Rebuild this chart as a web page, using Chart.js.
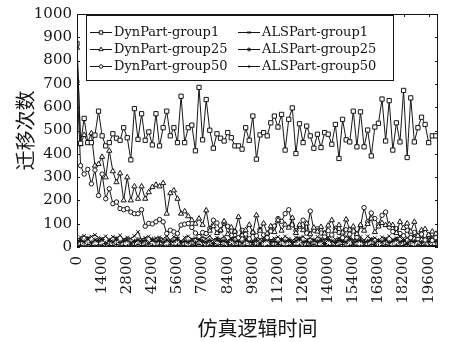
<!DOCTYPE html>
<html lang="zh">
<head>
    <meta charset="UTF-8">
    <title>迁移次数</title>
    <script src="https://cdn.jsdelivr.net/npm/chart.js"></script>
    <style>
        body { margin: 0; background: #fff; }
    </style>
</head>
<body>
    <canvas id="chart" width="456" height="342"></canvas>

    <script>
        const STEP = 200;
        const xTicks = [0, 1400, 2800, 4200, 5600, 7000, 8400, 9800, 11200, 12600, 14000, 15400, 16800, 18200, 19600];
        const yTicks = [0, 100, 200, 300, 400, 500, 600, 700, 800, 900, 1000];

        const dynGroup1 = [
            872, 445, 552, 448, 448, 480, 583, 477, 434, 448,
            486, 467, 458, 512, 469, 374, 594, 462, 572, 458,
            494, 438, 572, 434, 512, 583, 477, 512, 448, 647,
            448, 512, 523, 413, 685, 460, 633, 501, 424, 486,
            467, 455, 491, 469, 434, 434, 420, 512, 458, 562,
            377, 481, 491, 477, 533, 562, 515, 569, 416, 548,
            597, 401, 529, 448, 519, 477, 424, 484, 427, 491,
            484, 441, 526, 380, 548, 460, 451, 583, 430, 580,
            430, 502, 391, 515, 531, 635, 455, 628, 416, 533,
            451, 672, 384, 640, 451, 512, 557, 526, 448, 477,
            477
        ];
        const dynGroup25 = [
            855, 441, 481, 448, 488, 349, 356, 387, 299, 413,
            325, 278, 316, 200, 299, 200, 260, 207, 260, 207,
            235, 257, 267, 260, 274, 143, 231, 243, 207, 143,
            153, 132, 115, 100, 122, 95, 157, 70, 89, 60,
            72, 110, 55, 84, 66, 129, 50, 72, 95, 62,
            136, 70, 101, 58, 89, 64, 115, 70, 96, 83,
            125, 60, 95, 72, 101, 55, 83, 66, 86, 58,
            92, 115, 70, 94, 62, 118, 74, 88, 56, 94,
            70, 99, 122, 64, 88, 103, 94, 97, 94, 60,
            108, 82, 101, 66, 108, 48, 72, 77, 52, 66,
            57
        ];
        const dynGroup50 = [
            710, 349, 313, 333, 271, 330, 221, 313, 207, 250,
            186, 193, 165, 160, 165, 150, 143, 143, 160, 89,
            101, 99, 108, 118, 108, 58, 72, 65, 58, 94,
            98, 101, 84, 60, 45, 62, 58, 80, 115, 103,
            70, 101, 89, 50, 66, 40, 72, 55, 35, 62,
            48, 75, 52, 40, 68, 90, 122, 110, 143, 160,
            95, 70, 88, 115, 60, 154, 72, 78, 60, 45,
            70, 52, 80, 62, 40, 74, 55, 68, 42, 90,
            169, 108, 146, 122, 96, 136, 150, 85, 66, 78,
            58, 48, 72, 40, 62, 35, 55, 30, 48, 28,
            40
        ];
        const alsGroup1 = [
            30, 42, 48, 38, 45, 52, 40, 35, 46, 30,
            44, 38, 50, 33, 41, 36, 47, 65, 32, 40,
            45, 28, 38, 42, 35, 48, 30, 44, 37, 25,
            41, 46, 33, 38, 29, 43, 36, 48, 31, 40,
            34, 45, 27, 39, 42, 30, 47, 35, 38, 26,
            44, 33, 40, 48, 29, 37, 43, 31, 46, 35,
            28, 41, 38, 45, 32, 39, 27, 44, 36, 30,
            42, 48, 33, 38, 26, 45, 40, 31, 37, 43,
            29, 46, 34, 39, 28, 42, 36, 47, 31, 38,
            44, 27, 40, 35, 46, 30, 41, 37, 33, 45,
            38
        ];
        const alsGroup25 = [
            20, 28, 22, 35, 18, 30, 25, 32, 15, 27,
            22, 34, 19, 26, 30, 17, 24, 31, 21, 28,
            16, 33, 23, 27, 19, 30, 22, 25, 34, 18,
            26, 21, 29, 17, 32, 24, 20, 28, 15, 31,
            23, 27, 19, 33, 22, 26, 18, 30, 24, 20,
            29, 16, 27, 32, 21, 25, 18, 31, 23, 28,
            19, 26, 34, 20, 24, 17, 30, 22, 27, 15,
            32, 25, 19, 28, 23, 21, 33, 18, 26, 29,
            20, 24, 31, 17, 27, 22, 30, 19, 25, 33,
            21, 28, 16, 26, 23, 31, 18, 27, 22, 29,
            24
        ];
        const alsGroup50 = [
            5, 8, 3, 10, 6, 4, 9, 7, 2, 8,
            5, 11, 4, 7, 3, 9, 6, 10, 5, 8,
            2, 7, 4, 9, 6, 3, 10, 5, 8, 4,
            7, 2, 9, 6, 11, 5, 3, 8, 4, 7,
            10, 6, 2, 9, 5, 8, 3, 7, 4, 10,
            6, 9, 2, 5, 8, 4, 11, 7, 3, 6,
            9, 5, 8, 2, 7, 4, 10, 6, 3, 9,
            5, 8, 4, 7, 11, 2, 6, 9, 5, 3,
            8, 4, 10, 7, 2, 6, 9, 5, 3, 8,
            4, 7, 11, 6, 2, 9, 5, 8, 3, 7,
            6
        ];

        const INK = '#151515';
        const serif = "'DejaVu Serif', serif";
        const cjk = "'Noto Sans CJK SC', sans-serif";

        const series = [
            { label: 'DynPart-group1', data: dynGroup1, style: 'rect', r: 3 },
            { label: 'DynPart-group25', data: dynGroup25, style: 'triangle', r: 3 },
            { label: 'DynPart-group50', data: dynGroup50, style: 'circle', r: 2.2 },
            { label: 'ALSPart-group1', data: alsGroup1, style: 'crossRot', r: 2.5 },
            { label: 'ALSPart-group25', data: alsGroup25, style: 'star', r: 2.6 },
            { label: 'ALSPart-group50', data: alsGroup50, style: 'cross', r: 2 }
        ];

        function toPoints(values) {
            return values.map((v, i) => ({ x: i * STEP, y: v }));
        }

        function marker(ctx, style, x, y, r) {
            ctx.beginPath();
            if (style === 'rect') {
                const s = r * Math.SQRT1_2;
                ctx.rect(x - s, y - s, 2 * s, 2 * s);
                ctx.fill();
            } else if (style === 'triangle') {
                ctx.moveTo(x, y - r);
                ctx.lineTo(x + r * 0.866, y + r * 0.5);
                ctx.lineTo(x - r * 0.866, y + r * 0.5);
                ctx.closePath();
                ctx.fill();
            } else if (style === 'circle') {
                ctx.arc(x, y, r, 0, Math.PI * 2);
                ctx.fill();
            } else {
                const d = r * Math.SQRT1_2;
                if (style !== 'cross') {
                    ctx.moveTo(x - d, y - d); ctx.lineTo(x + d, y + d);
                    ctx.moveTo(x - d, y + d); ctx.lineTo(x + d, y - d);
                }
                if (style !== 'crossRot') {
                    ctx.moveTo(x - r, y); ctx.lineTo(x + r, y);
                    ctx.moveTo(x, y - r); ctx.lineTo(x, y + r);
                }
            }
            ctx.stroke();
        }

        // frame, inward ticks and the boxed two-column legend
        const framePlugin = {
            id: 'frame',
            afterDraw(chart) {
                const { ctx, chartArea: a, scales } = chart;
                ctx.save();
                ctx.strokeStyle = INK;
                ctx.lineWidth = 1;
                ctx.strokeRect(a.left + 0.5, a.top + 0.5, a.right - a.left - 1, a.bottom - a.top - 1);

                ctx.beginPath();
                scales.y.ticks.forEach(t => {
                    const py = Math.round(scales.y.getPixelForValue(t.value)) + 0.5;
                    ctx.moveTo(a.left, py); ctx.lineTo(a.left + 3, py);
                    ctx.moveTo(a.right, py); ctx.lineTo(a.right - 3, py);
                });
                scales.x.ticks.forEach(t => {
                    const px = Math.round(scales.x.getPixelForValue(t.value)) + 0.5;
                    ctx.moveTo(px, a.bottom); ctx.lineTo(px, a.bottom - 3);
                    ctx.moveTo(px, a.top); ctx.lineTo(px, a.top + 3);
                });
                ctx.stroke();

                const box = { left: a.left + 9, top: a.top + 1, width: 307, height: 65 };
                ctx.fillStyle = '#fff';
                ctx.fillRect(box.left, box.top, box.width, box.height);
                ctx.strokeRect(box.left + 0.5, box.top + 0.5, box.width, box.height);

                ctx.font = '13px ' + serif;
                ctx.textBaseline = 'middle';
                series.forEach((s, i) => {
                    const col = Math.floor(i / 3);
                    const row = i % 3;
                    const x0 = box.left + 4 + col * 148;
                    const y0 = box.top + 17 + row * 17;
                    ctx.beginPath();
                    ctx.moveTo(x0, y0 + 0.5);
                    ctx.lineTo(x0 + 22, y0 + 0.5);
                    ctx.stroke();
                    ctx.fillStyle = '#fff';
                    marker(ctx, s.style, x0 + 11, y0 + 0.5, s.r * 0.8);
                    ctx.fillStyle = INK;
                    ctx.fillText(s.label, x0 + 24, y0 + 1);
                });
                ctx.restore();
            }
        };

        Chart.defaults.font.family = serif;
        Chart.defaults.color = INK;

        new Chart(document.getElementById('chart'), {
            type: 'line',
            data: {
                datasets: series.map(s => ({
                    label: s.label,
                    data: toPoints(s.data),
                    borderColor: INK,
                    borderWidth: 1,
                    pointStyle: s.style,
                    pointRadius: s.r,
                    pointBorderWidth: 1,
                    pointBorderColor: INK,
                    pointBackgroundColor: '#fff',
                    tension: 0,
                    fill: false
                }))
            },
            options: {
                responsive: false,
                animation: false,
                layout: { padding: { top: 12, right: 12, left: 0, bottom: 0 } },
                plugins: {
                    legend: { display: false },
                    tooltip: { enabled: false }
                },
                scales: {
                    x: {
                        type: 'linear',
                        min: 0,
                        max: 20120,
                        afterBuildTicks: scale => {
                            scale.ticks = xTicks.map(v => ({ value: v }));
                        },
                        afterFit: scale => { scale.height = 95; },
                        border: { display: false },
                        grid: { display: false, drawTicks: false },
                        ticks: {
                            autoSkip: false,
                            minRotation: 90,
                            maxRotation: 90,
                            padding: 9,
                            font: { size: 15 },
                            callback: v => String(v)
                        },
                        title: {
                            display: true,
                            text: '仿真逻辑时间',
                            font: { family: cjk, size: 20 },
                            padding: { top: 0, bottom: 2 }
                        }
                    },
                    y: {
                        min: 0,
                        max: 1000,
                        afterBuildTicks: scale => {
                            scale.ticks = yTicks.map(v => ({ value: v }));
                        },
                        afterFit: scale => { scale.width = 77; },
                        border: { display: false },
                        grid: { display: false, drawTicks: false },
                        ticks: {
                            padding: 5,
                            font: { size: 15 },
                            callback: v => String(v)
                        },
                        title: {
                            display: true,
                            text: '迁移次数',
                            font: { family: cjk, size: 20 },
                            padding: { top: 13, bottom: 0 }
                        }
                    }
                }
            },
            plugins: [framePlugin]
        });
    </script>
</body>
</html>
